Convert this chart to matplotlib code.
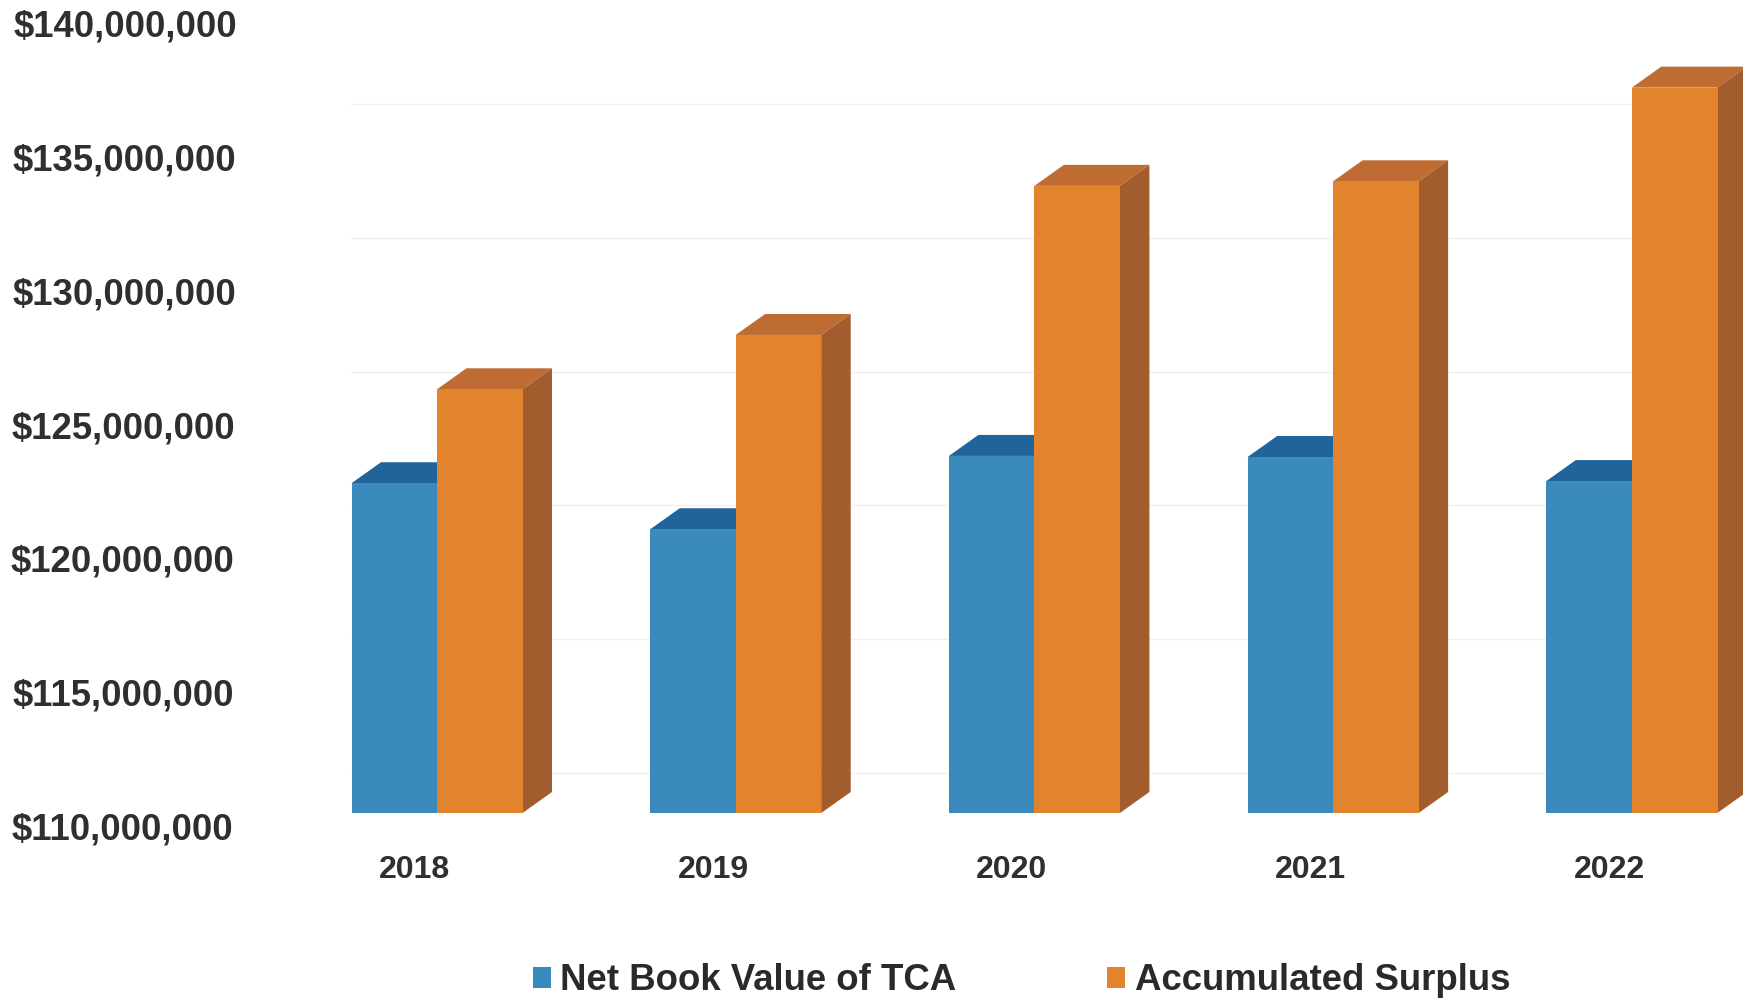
# -*- coding: utf-8 -*-
import matplotlib
matplotlib.use("Agg")
import matplotlib.pyplot as plt
from matplotlib.patches import Polygon
from matplotlib.transforms import Affine2D, ScaledTranslation

plt.rcParams['font.family'] = ['Liberation Sans', 'DejaVu Sans']
plt.rcParams['font.weight'] = 'bold'

years = ['2018', '2019', '2020', '2021', '2022']
net_book = [122320000, 120600000, 123340000, 123300000, 122400000]
surplus = [125830000, 127860000, 133430000, 133600000, 137100000]
yticks = [110000000, 115000000, 120000000, 125000000, 130000000, 135000000, 140000000]
gridvals = yticks[:-1]

W, H = 1743, 1002
AX_L, AX_T, AX_B = 300, 10, 813
X0, STEP = 437, 298.7
BAR_W = 85.5 / STEP
DX = 29.5 / STEP
DY = 21 / (AX_B - AX_T) * (yticks[-1] - yticks[0])

fig = plt.figure(figsize=(W / 100, H / 100), dpi=100, facecolor='white')
ax = fig.add_axes([AX_L / W, 1 - AX_B / H, (W - AX_L) / W, (AX_B - AX_T) / H])
ax.set_xlim((AX_L - X0) / STEP, (W - X0) / STEP)
ax.set_ylim(yticks[0], yticks[-1])
for s in ax.spines.values():
    s.set_visible(False)


def draw_bars(xs, vals, front, top, side, label):
    ax.bar(xs, [v - yticks[0] for v in vals], BAR_W, bottom=yticks[0], align='edge',
           color=front, label=label, zorder=3)
    for x, v in zip(xs, vals):
        r = x + BAR_W
        ax.add_patch(Polygon([(x, v), (r, v), (r + DX, v + DY), (x + DX, v + DY)],
                             color=top, lw=0, zorder=2))
        ax.add_patch(Polygon([(r, yticks[0]), (r + DX, yticks[0] + DY), (r + DX, v + DY), (r, v)],
                             color=side, lw=0, zorder=2))


idx = list(range(len(years)))
draw_bars([i - BAR_W for i in idx], net_book, '#3a8abe', '#20649b', '#1b5a8a', 'Net Book Value of TCA')
draw_bars(idx, surplus, '#e2832e', '#be6c32', '#a35c2e', 'Accumulated Surplus')

# faint gridlines sit on the back wall, up and behind the front of the bars
back = ax.transData + Affine2D().translate(0, 40)
ax.hlines(gridvals, (350 - X0) / STEP, (W - X0) / STEP, color='#f0f0f0', lw=1.0, zorder=1, transform=back)

ax.set_yticks(yticks)
ax.set_yticklabels(['${:,}'.format(v) for v in yticks], fontsize=26.3, color='#2f2f2f')
ax.set_xticks(idx)
ax.set_xticklabels(years, fontsize=23, color='#2f2f2f')
ax.tick_params(axis='both', length=0)
ax.tick_params(axis='y', pad=47.5)
ax.tick_params(axis='x', pad=30)

# the scan is slightly tilted, so the y labels drift to the right going up
for i, lab in enumerate(ax.get_yticklabels()):
    dx = (-1 + 4 * i / (len(yticks) - 1)) * 1.11
    lab.set_transform(lab.get_transform() + ScaledTranslation(dx / 100, -13 / 100, fig.dpi_scale_trans))
for lab in ax.get_xticklabels():
    lab.set_transform(lab.get_transform() + ScaledTranslation(-22.5 / 100, 0, fig.dpi_scale_trans))

ax.legend(loc='center left', bbox_to_anchor=(533 / W, 1 - 981 / H), bbox_transform=fig.transFigure,
          ncol=2, frameon=False, prop={'size': 26.4, 'weight': 'bold'}, labelcolor='#2a2a2a',
          borderpad=0, borderaxespad=0, handlelength=0.48, handleheight=0.48,
          handletextpad=0.27, columnspacing=4.1)

fig.savefig('out.png', dpi=100)
